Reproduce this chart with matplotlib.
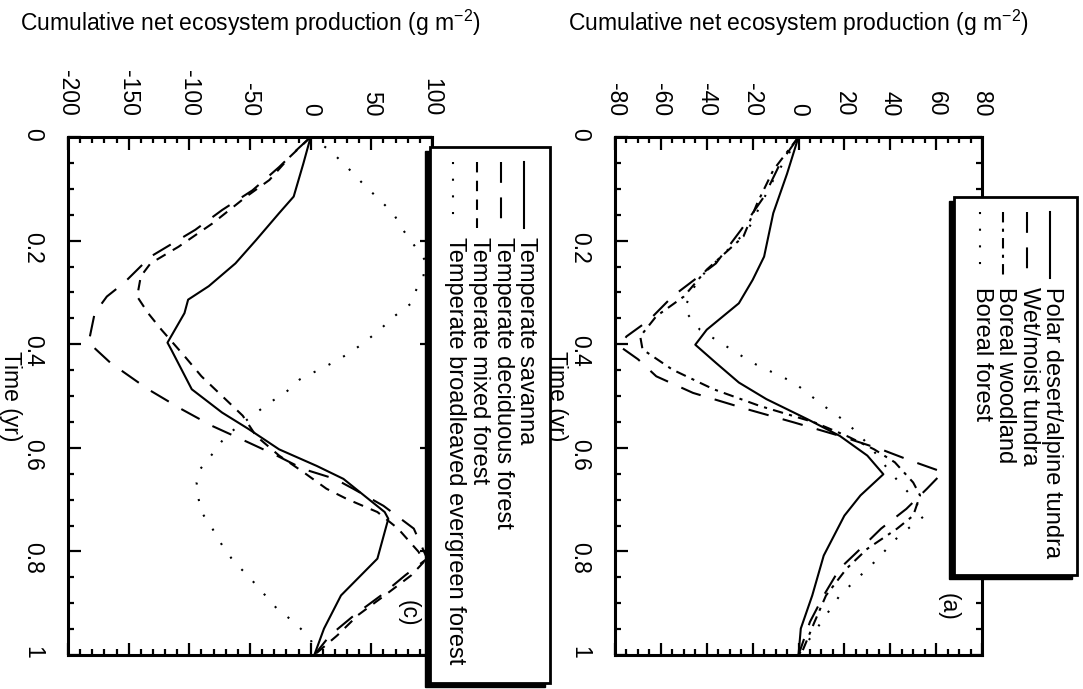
import numpy as np
import matplotlib
matplotlib.use('Agg')
from matplotlib import pyplot as plt
from matplotlib.lines import Line2D
from matplotlib.patches import Rectangle
from matplotlib.ticker import MultipleLocator

plt.rcParams['font.family'] = ['Liberation Sans', 'DejaVu Sans']
plt.rcParams['mathtext.default'] = 'regular'
plt.rcParams['axes.unicode_minus'] = False

FS = 16.5
FS_LEG = 17

# ---- panel (c): temperate biomes ----
t_sav = [0, .051, .115, .147, .199, .244, .288, .314, .340, .397, .410, .487, .532, .564,
         .603, .635, .660, .692, .724, .737, .814, .885, .949, 1]
nep_sav = [0, -6, -14, -26, -45, -62, -84, -101, -104, -118, -115, -98, -73, -51,
           -26, 5, 27, 44, 61, 64, 55, 25, 11, 3]

t_dec = [0, .026, .058, .103, .141, .179, .231, .282, .308, .340, .397, .436, .487, .526,
         .558, .590, .615, .641, .660, .679, .712, .756, .814, .846, .885, .923, .962, 1]
nep_dec = [0, -12, -26, -48, -73, -95, -132, -154, -168, -178, -183, -165, -134, -106,
           -81, -51, -28, -6, 20, 35, 60, 85, 96, 78, 58, 36, 16, 3]

t_mix = [0, .038, .083, .115, .167, .212, .244, .269, .308, .340, .372, .423, .462, .500,
         .538, .577, .615, .647, .679, .699, .724, .756, .801, .821, .846, .885, .923, .962, 1]
nep_mix = [0, -17, -34, -53, -81, -109, -132, -140, -143, -134, -123, -104, -90, -73,
           -56, -45, -26, -6, 13, 30, 55, 72, 89, 93, 83, 61, 39, 22, 3]

t_bev = [0, .026, .058, .090, .115, .147, .179, .208, .237, .269, .295, .321, .346, .372,
         .397, .417, .436, .468, .494, .513, .538, .577, .609, .641, .667, .692, .724, .756,
         .788, .821, .846, .878, .910, .936, .968, 1]
nep_bev = [0, 16, 30, 43, 54, 68, 76, 85, 94, 93, 87, 83, 69, 57,
           44, 32, 18, -9, -21, -34, -48, -70, -80, -91, -94, -93, -90, -81,
           -73, -63, -52, -40, -28, -14, 0, 3]

# ---- panel (a): polar / boreal biomes ----
t_pol = [0, .071, .147, .231, .276, .321, .372, .401, .436, .474, .506, .545, .577, .615,
         .651, .692, .731, .808, .885, .949, 1]
nep_pol = [0, -5, -11, -15, -20, -26, -40, -45, -36, -26, -14, 4, 18, 30,
           37, 27, 20, 11, 6, 1, 0]

t_wet = [0, .051, .115, .179, .244, .308, .353, .385, .404, .429, .462, .494, .526, .551,
         .577, .603, .625, .647, .679, .718, .756, .795, .833, .885, .936, 1]
nep_wet = [0, -8, -15, -25, -36, -55, -65, -75, -78, -70, -62, -46, -22, -2,
           18, 36, 49, 63, 56, 47, 36, 27, 18, 11, 5, 0]

t_bwd = [0, .064, .128, .192, .256, .308, .346, .385, .410, .449, .487, .519, .551, .577,
         .603, .628, .667, .692, .731, .756, .795, .833, .885, .936, 1]
nep_bwd = [0, -11, -18, -24, -40, -50, -62, -69, -68, -55, -37, -17, 7, 21,
           33, 42, 50, 53, 50, 43, 30, 21, 12, 7, 1]

t_bfo = [0, .083, .179, .276, .333, .372, .397, .436, .474, .519, .551, .596, .647, .692,
         .731, .769, .821, .885, .936, 1]
nep_bfo = [0, -11, -22, -44, -50, -43, -34, -20, -2, 11, 21, 31, 40, 49,
           55, 44, 33, 18, 10, 0]

time_ticks = [0, 0.2, 0.4, 0.6, 0.8, 1]
time_labels = ['0', '0.2', '0.4', '0.6', '0.8', '1']
nep_ticks_c = [-200, -150, -100, -50, 0, 50, 100]
nep_ticks_a = [-80, -60, -40, -20, 0, 20, 40, 60, 80]

labels_c = ['Temperate savanna', 'Temperate deciduous forest',
            'Temperate mixed forest', 'Temperate broadleaved evergreen forest']
labels_a = ['Polar desert/alpine tundra', 'Wet/moist tundra',
            'Boreal woodland', 'Boreal forest']

styles = ['-', (0, (10, 7)), (0, (5, 4)), (0, (1, 7))]
styles_a = ['-', (0, (10, 7)), (0, (5, 3, 1.5, 3)), (0, (1, 7))]

W, H = 1083, 689
fig = plt.figure(figsize=(W / 100, H / 100), dpi=100)


def fx(px):
    return px / W


def fy(py):
    return 1 - py / H


def setup(ax, xlim, xticks, xminor):
    ax.set_xlim(*xlim)
    ax.set_ylim(1, 0)
    ax.set_xticks(xticks)
    ax.set_xticklabels([str(v) for v in xticks])
    ax.xaxis.set_minor_locator(MultipleLocator(xminor))
    ax.set_yticks(time_ticks)
    ax.set_yticklabels(time_labels)
    ax.yaxis.set_minor_locator(MultipleLocator(0.05))
    ax.tick_params(which='both', direction='in', top=True, bottom=True, left=True,
                   right=True, labeltop=True, labelbottom=False, width=1.6,
                   labelsize=FS)
    ax.tick_params(which='major', length=9)
    ax.tick_params(which='minor', length=4.5)
    ax.tick_params(axis='x', labelrotation=-90, pad=15)
    ax.tick_params(axis='y', labelrotation=-90, pad=17)
    for s in ax.spines.values():
        s.set_linewidth(2.2)
    ax.text(0.5, 1.22, 'Cumulative net ecosystem production (g m$^{-2}$)',
            transform=ax.transAxes, ha='center', va='center', fontsize=FS)


def legend_box(x0, x1, y0, y1, cols, labels, lstyles, s0, s1, ty):
    fig.add_artist(Rectangle((fx(x0 - 5), fy(y1 + 4)), (x1 - x0) / W, (y1 - y0) / H,
                             transform=fig.transFigure, facecolor='k', edgecolor='k',
                             zorder=5))
    fig.add_artist(Rectangle((fx(x0), fy(y1)), (x1 - x0) / W, (y1 - y0) / H,
                             transform=fig.transFigure, facecolor='white', edgecolor='k',
                             lw=2, zorder=6))
    for cx, lab, ls in zip(cols, labels, lstyles):
        fig.add_artist(Line2D([fx(cx), fx(cx)], [fy(s0), fy(s1)], transform=fig.transFigure,
                              color='k', lw=1.5, linestyle=ls, zorder=7))
        fig.text(fx(cx + 2), fy(ty), lab, rotation=-90, ha='center', va='top',
                 fontsize=FS_LEG, zorder=7)


# panel (c), left
axc = fig.add_axes([fx(68), fy(655), (432 - 68) / W, (655 - 137) / H])
setup(axc, (-200, 100), nep_ticks_c, 10)
axc.plot(nep_sav, t_sav, color='k', lw=1.5, linestyle=styles[0])
axc.plot(nep_dec, t_dec, color='k', lw=1.5, linestyle=styles[1])
axc.plot(nep_mix, t_mix, color='k', lw=1.5, linestyle=styles[2])
axc.plot(nep_bev, t_bev, color='k', lw=1.5, linestyle=styles[3])
axc.text(-0.158, 0.5, 'Time (yr)', rotation=-90, ha='center', va='center',
         transform=axc.transAxes, fontsize=FS)
axc.text(0.934, 0.081, '(c)', rotation=-90, ha='center', va='center',
         transform=axc.transAxes, fontsize=FS)

# panel (a), right
axa = fig.add_axes([fx(615), fy(655), (982 - 615) / W, (655 - 137) / H])
setup(axa, (-80, 80), nep_ticks_a, 5)
axa.plot(nep_pol, t_pol, color='k', lw=1.5, linestyle=styles_a[0])
axa.plot(nep_wet, t_wet, color='k', lw=1.5, linestyle=styles_a[1])
axa.plot(nep_bwd, t_bwd, color='k', lw=1.5, linestyle=styles_a[2])
axa.plot(nep_bfo, t_bfo, color='k', lw=1.5, linestyle=styles_a[3])
axa.text(-0.160, 0.5, 'Time (yr)', rotation=-90, ha='center', va='center',
         transform=axa.transAxes, fontsize=FS)
axa.text(0.907, 0.093, '(a)', rotation=-90, ha='center', va='center',
         transform=axa.transAxes, fontsize=FS)

legend_box(430, 550, 147, 683, [524, 501, 477, 453], labels_c, styles, 162, 228, 237)
legend_box(954, 1077, 197, 575, [1050, 1027, 1003, 980], labels_a, styles_a, 212, 278, 287)

fig.savefig('out.png', dpi=100)
